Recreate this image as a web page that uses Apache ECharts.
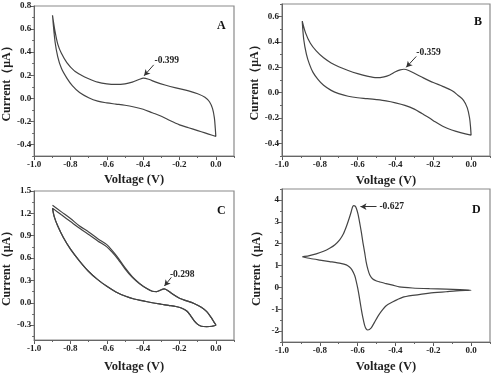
<!DOCTYPE html>
<html>
<head>
<meta charset="utf-8">
<script src="https://cdn.jsdelivr.net/npm/echarts@6/dist/echarts.min.js"></script>
<style>html,body{margin:0;padding:0;background:#fff}#c{width:500px;height:378px}</style>
</head>
<body>
<div id="c"></div>
<script>
// ---- Data (Voltage V, Current µA) ----
const aV = [-0.899,-0.885,-0.87,-0.85,-0.82,-0.78,-0.74,-0.70,-0.65,-0.60,-0.55,-0.50,-0.46,-0.42,-0.399,-0.37,-0.33,-0.28,-0.22,-0.15,-0.10,-0.06,-0.035,-0.018,-0.008,-0.003,0.0,
            -0.02,-0.06,-0.10,-0.15,-0.20,-0.25,-0.30,-0.35,-0.40,-0.45,-0.50,-0.55,-0.60,-0.65,-0.70,-0.75,-0.79,-0.82,-0.85,-0.87,-0.885,-0.899];
const aI = [0.72,0.58,0.47,0.39,0.31,0.24,0.20,0.17,0.14,0.125,0.12,0.125,0.14,0.165,0.175,0.165,0.14,0.115,0.09,0.065,0.04,0.01,-0.03,-0.09,-0.17,-0.26,-0.33,
            -0.32,-0.30,-0.28,-0.255,-0.23,-0.195,-0.155,-0.125,-0.095,-0.075,-0.06,-0.05,-0.04,-0.025,0.005,0.05,0.11,0.175,0.26,0.36,0.49,0.72];

const bV = [-0.893,-0.875,-0.85,-0.819,-0.78,-0.74,-0.70,-0.65,-0.60,-0.55,-0.50,-0.46,-0.43,-0.40,-0.375,-0.355,-0.33,-0.29,-0.25,-0.20,-0.15,-0.10,-0.07,-0.04,-0.02,-0.008,-0.003,0.0,
            -0.03,-0.079,-0.12,-0.15,-0.19,-0.22,-0.26,-0.30,-0.35,-0.40,-0.45,-0.50,-0.55,-0.60,-0.65,-0.70,-0.74,-0.78,-0.81,-0.836,-0.855,-0.871,-0.885,-0.893];
const bI = [0.565,0.47,0.39,0.33,0.275,0.235,0.205,0.175,0.15,0.13,0.118,0.125,0.14,0.165,0.18,0.185,0.175,0.145,0.115,0.08,0.05,0.015,-0.02,-0.06,-0.12,-0.2,-0.27,-0.335,
            -0.325,-0.305,-0.285,-0.265,-0.23,-0.2,-0.165,-0.13,-0.1,-0.08,-0.065,-0.055,-0.047,-0.04,-0.028,-0.008,0.018,0.058,0.105,0.16,0.225,0.305,0.42,0.565];

const cUp1V = [-0.899,-0.85,-0.80,-0.75,-0.70,-0.65,-0.60,-0.57,-0.54,-0.50,-0.46,-0.42,-0.38,-0.35,-0.325,-0.30,-0.285,-0.265,-0.24,-0.20,-0.16,-0.12,-0.08,-0.05,-0.025,-0.01,0.0];
const cUp1I = [1.31,1.22,1.13,1.03,0.95,0.86,0.78,0.70,0.61,0.47,0.35,0.26,0.19,0.155,0.15,0.175,0.185,0.165,0.12,0.06,0.025,-0.01,-0.06,-0.12,-0.2,-0.26,-0.30];
const cUp2V = [-0.899,-0.85,-0.80,-0.75,-0.70,-0.65,-0.60,-0.57,-0.54,-0.50,-0.46,-0.42,-0.38,-0.35,-0.325,-0.30,-0.285,-0.265,-0.24,-0.20,-0.16,-0.12,-0.08,-0.05,-0.025,-0.01,0.0];
const cUp2I = [1.27,1.18,1.09,1.0,0.915,0.83,0.75,0.675,0.59,0.455,0.34,0.255,0.19,0.155,0.15,0.175,0.185,0.165,0.12,0.06,0.025,-0.01,-0.06,-0.12,-0.2,-0.26,-0.30];
const cLowV = [0.0,-0.02,-0.05,-0.08,-0.10,-0.12,-0.14,-0.16,-0.19,-0.22,-0.26,-0.30,-0.35,-0.40,-0.45,-0.50,-0.55,-0.60,-0.65,-0.70,-0.75,-0.80,-0.84,-0.87,-0.89,-0.899];
const cLowI = [-0.30,-0.315,-0.32,-0.315,-0.29,-0.24,-0.17,-0.11,-0.07,-0.05,-0.035,-0.02,0.0,0.025,0.05,0.09,0.145,0.22,0.31,0.42,0.56,0.72,0.88,1.03,1.16,1.27];

const dV = [-0.893,-0.86,-0.819,-0.78,-0.748,-0.72,-0.695,-0.675,-0.66,-0.645,-0.634,-0.627,-0.621,-0.614,-0.607,-0.598,-0.59,-0.58,-0.572,-0.563,-0.555,-0.545,-0.535,-0.52,-0.50,-0.484,-0.45,-0.414,-0.38,-0.31,-0.22,-0.132,-0.06,0.0,
            -0.06,-0.132,-0.22,-0.31,-0.363,-0.416,-0.449,-0.475,-0.493,-0.511,-0.528,-0.546,-0.555,-0.563,-0.572,-0.581,-0.59,-0.599,-0.608,-0.616,-0.63,-0.643,-0.66,-0.69,-0.748,-0.80,-0.85,-0.893];
const dI = [1.40,1.44,1.53,1.65,1.79,1.95,2.17,2.45,2.77,3.15,3.46,3.68,3.74,3.72,3.62,3.35,3.0,2.5,2.05,1.6,1.17,0.8,0.55,0.38,0.29,0.25,0.17,0.10,0.02,-0.03,-0.06,-0.08,-0.1,-0.13,
            -0.15,-0.2,-0.26,-0.37,-0.46,-0.67,-0.84,-1.1,-1.33,-1.6,-1.85,-1.95,-1.9,-1.74,-1.4,-0.98,-0.5,-0.06,0.3,0.55,0.8,0.93,1.03,1.1,1.18,1.25,1.32,1.40];

// tick values
const xTicks = [-1.0,-0.8,-0.6,-0.4,-0.2,0.0];
const xMinor = [-1.0,-0.9,-0.8,-0.7,-0.6,-0.5,-0.4,-0.3,-0.2,-0.1,0.0,0.1];
const aYTicks = [-0.4,-0.2,0.0,0.2,0.4,0.6,0.8];
const aYMinor = [-0.5,-0.4,-0.3,-0.2,-0.1,0.0,0.1,0.2,0.3,0.4,0.5,0.6,0.7,0.8];
const bYTicks = [-0.4,-0.2,0.0,0.2,0.4,0.6];
const bYMinor = [-0.5,-0.4,-0.3,-0.2,-0.1,0.0,0.1,0.2,0.3,0.4,0.5,0.6,0.7];
const cYTicks = [-0.3,0.0,0.3,0.6,0.9,1.2,1.5];
const cYMinor = [-0.45,-0.3,-0.15,0.0,0.15,0.3,0.45,0.6,0.75,0.9,1.05,1.2,1.35,1.5];
const dYTicks = [-2,-1,0,1,2,3,4];
const dYMinor = [-2.5,-2,-1.5,-1,-0.5,0,0.5,1,1.5,2,2.5,3,3.5,4,4.5];
const peakLabels = ['-0.399','-0.359','-0.298','-0.627'];
const panelLetters = ['A','B','C','D'];

// ---- Chart ----
const zip = (v, i) => v.map((x, k) => [x, i[k]]);
const FONT = 'Liberation Serif';
const grids = [
  {left: 32, top: 6, width: 202, height: 150},
  {left: 282, top: 4, width: 208, height: 152},
  {left: 32, top: 191, width: 202, height: 149},
  {left: 282, top: 189, width: 208, height: 153}
];
const yRanges = [[-0.5,0.8],[-0.5,0.7],[-0.5,1.5],[-2.5,4.5]];
const yTicks = [aYTicks,bYTicks,cYTicks,dYTicks];
const yMinors = [aYMinor,bYMinor,cYMinor,dYMinor];
const yFmt = [1,1,1,0];
const xGaps = [17,18,20,18];

const labelStyle = {fontFamily: FONT, fontWeight: 'bold', fontSize: 9, color: '#222'};
const xAxes = [], yAxes = [];
for (let g = 0; g < 4; g++) {
  xAxes.push({
    type: 'value', gridIndex: g, min: -1.0, max: 0.1, position: 'bottom',
    name: 'Voltage (V)', nameLocation: 'middle', nameGap: xGaps[g],
    nameTextStyle: {fontFamily: FONT, fontWeight: 'bold', fontSize: 12.5, color: '#222'},
    axisLine: {show: true, onZero: false, lineStyle: {color: '#666', width: 1}},
    axisTick: {show: true, length: 4, customValues: xTicks, lineStyle: {color: '#555'}},
    axisLabel: {show: true, margin: 4, customValues: xTicks, formatter: v => v.toFixed(1), ...labelStyle},
    splitLine: {show: false}
  });
  yAxes.push({
    type: 'value', gridIndex: g, min: yRanges[g][0], max: yRanges[g][1], position: 'left',
    name: 'Current（μA）', nameLocation: 'middle', nameGap: 19, nameRotate: 90,
    nameTextStyle: {fontFamily: FONT, fontWeight: 'bold', fontSize: 12, color: '#222'},
    axisLine: {show: true, onZero: false, lineStyle: {color: '#666', width: 1}},
    axisTick: {show: true, length: 4, customValues: yTicks[g], lineStyle: {color: '#555'}},
    axisLabel: {show: true, margin: 3, customValues: yTicks[g], formatter: (fd => v => v.toFixed(fd))(yFmt[g]), ...labelStyle},
    splitLine: {show: false}
  });
}
for (let g = 0; g < 4; g++) {
  xAxes.push({
    type: 'value', gridIndex: g, min: -1.0, max: 0.1, position: 'bottom', offset: 0,
    axisLine: {show: false, onZero: false}, splitLine: {show: false}, axisLabel: {show: false},
    axisTick: {show: true, length: 2, customValues: xMinor, lineStyle: {color: '#666'}}
  });
  yAxes.push({
    type: 'value', gridIndex: g, min: yRanges[g][0], max: yRanges[g][1], position: 'left', offset: 0,
    axisLine: {show: false, onZero: false}, splitLine: {show: false}, axisLabel: {show: false},
    axisTick: {show: true, length: 2, customValues: yMinors[g], lineStyle: {color: '#666'}}
  });
}

const lineSeries = (g, data, extra) => Object.assign({
  type: 'line', xAxisIndex: g, yAxisIndex: g, data: data, showSymbol: false, symbol: 'none',
  smooth: 0.3, lineStyle: {color: '#444', width: 1.2}, silent: true
}, extra || {});

const annot = (text, textAt, from, to) => ({
  markPoint: {
    symbol: 'circle', symbolSize: 1, itemStyle: {color: 'rgba(0,0,0,0)'}, silent: true,
    label: {show: true, position: 'inside', formatter: text, fontFamily: FONT, fontWeight: 'bold', fontSize: 9.5, color: '#222'},
    data: [{coord: textAt}]
  },
  markLine: {
    silent: true, symbol: ['none', 'arrow'], symbolSize: [5, 6],
    lineStyle: {color: '#333', width: 1, type: 'solid'}, label: {show: false},
    data: [[{coord: from}, {coord: to}]]
  }
});

const option = {
  animation: false,
  backgroundColor: '#fff',
  grid: grids.map(r => Object.assign({show: true, borderColor: '#8a8a8a', borderWidth: 1.2, backgroundColor: 'transparent'}, r)),
  xAxis: xAxes,
  yAxis: yAxes,
  title: [
    {text: panelLetters[0], left: 212, top: 15},
    {text: panelLetters[1], left: 469, top: 11},
    {text: panelLetters[2], left: 212, top: 200},
    {text: panelLetters[3], left: 467, top: 199}
  ].map(t => Object.assign(t, {textStyle: {fontFamily: FONT, fontWeight: 'bold', fontSize: 12, color: '#111'}})),
  series: [
    lineSeries(0, zip(aV, aI), annot(peakLabels[0], [-0.27, 0.33], [-0.342, 0.29], [-0.395, 0.195])),
    lineSeries(1, zip(bV, bI), annot(peakLabels[1], [-0.225, 0.32], [-0.29, 0.286], [-0.343, 0.2])),
    lineSeries(2, zip(cUp1V, cUp1I).concat(zip(cLowV, cLowI)), annot(peakLabels[2], [-0.185, 0.375], [-0.245, 0.34], [-0.283, 0.225])),
    lineSeries(2, zip(cUp2V, cUp2I).concat(zip(cLowV, cLowI))),
    lineSeries(3, zip(dV, dI), Object.assign({smooth: 0.2}, annot(peakLabels[3], [-0.42, 3.69], [-0.5, 3.69], [-0.585, 3.69])))
  ]
};
echarts.init(document.getElementById('c'), null, {renderer: 'canvas'}).setOption(option);
</script>
</body>
</html>
